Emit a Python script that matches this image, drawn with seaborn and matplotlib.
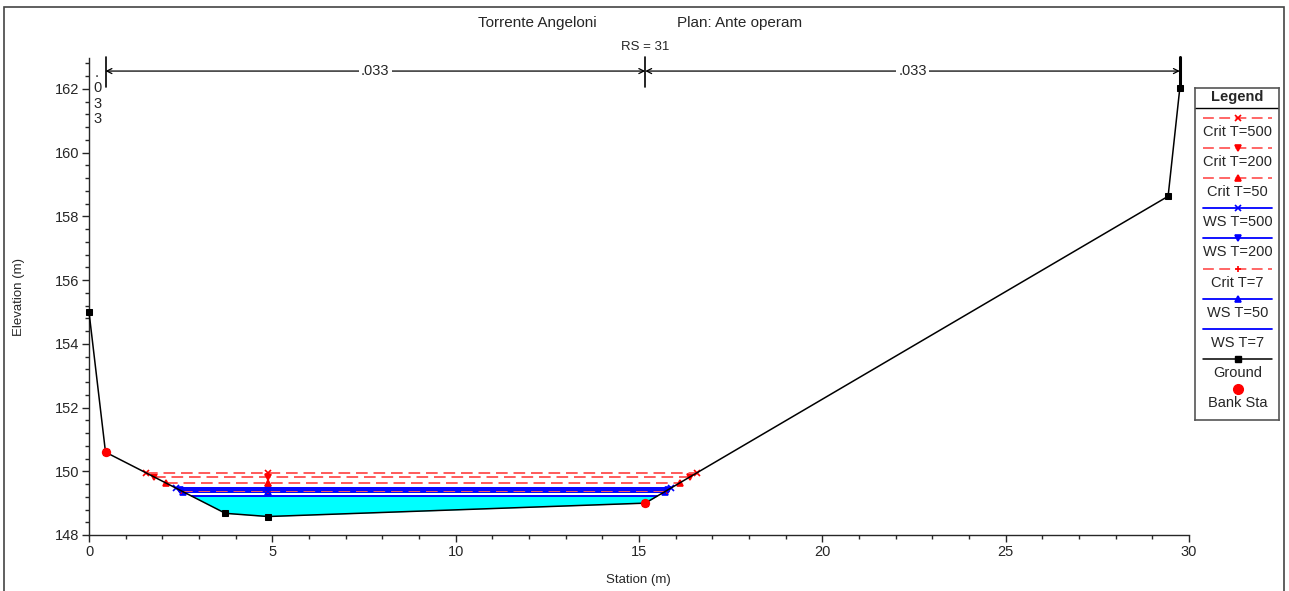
import numpy as np
import pandas as pd
import matplotlib
matplotlib.use("Agg")
import matplotlib.pyplot as plt
import matplotlib.patches as mpatches
from matplotlib.ticker import MultipleLocator
import seaborn as sns

# ground profile (station, elevation)
ground_sta = [0.0, 0.45, 3.72, 4.88, 15.17, 29.43, 29.75]
ground_elev = [155.0, 150.6, 148.68, 148.58, 149.0, 158.63, 162.03]

# bank stations
bank_sta = [0.45, 15.17]
bank_elev = [150.6, 149.0]

# water surface / critical profiles
profile_names = ["Crit T=500", "Crit T=200", "Crit T=50", "WS T=500",
                 "WS T=200", "Crit T=7", "WS T=50", "WS T=7"]
profile_elev = [149.95, 149.82, 149.63, 149.47, 149.42, 149.39, 149.36, 149.21]
profile_left = [1.56, 1.78, 2.11, 2.38, 2.47, 2.52, 2.57, 2.82]
profile_right = [16.58, 16.39, 16.11, 15.87, 15.80, 15.76, 15.72, 15.48]
profile_mid = 4.88

# wetted area under WS T=7
fill_sta = [2.82, 3.72, 4.88, 15.17, 15.48]
fill_bot = [149.21, 148.68, 148.58, 149.0, 149.21]
fill_top = 149.21

# Manning's n regions
n_bounds = [0.0, 0.45, 15.17, 29.75]
n_values = [".033", ".033", ".033"]

styles = {
    "Crit T=500": dict(color="#ff5a5a", ls=(0, (6, 3)), marker="x", mc="red"),
    "Crit T=200": dict(color="#ff5a5a", ls=(0, (6, 3)), marker="v", mc="red"),
    "Crit T=50": dict(color="#ff5a5a", ls=(0, (6, 3)), marker="^", mc="red"),
    "WS T=500": dict(color="blue", ls="-", marker="x", mc="blue"),
    "WS T=200": dict(color="blue", ls="-", marker="v", mc="blue"),
    "Crit T=7": dict(color="#ff5a5a", ls=(0, (6, 3)), marker="+", mc="red"),
    "WS T=50": dict(color="blue", ls="-", marker="^", mc="blue"),
    "WS T=7": dict(color="blue", ls="-", marker=None, mc="blue"),
}

sns.set_style("ticks")
plt.rcParams["font.family"] = ["Liberation Sans", "DejaVu Sans"]

W, H = 1289, 591
fig = plt.figure(figsize=(W / 100, H / 100), dpi=100)
ax = fig.add_axes([89 / W, 1 - 535 / H, 1100 / W, 477 / H])

# water area
ax.fill_between(fill_sta, fill_bot, fill_top, color="cyan", lw=0, zorder=1)

# profiles (draw bottom ones first)
for name, z, xl, xr in reversed(list(zip(profile_names, profile_elev, profile_left, profile_right))):
    st = styles[name]
    df = pd.DataFrame({"sta": [xl, profile_mid, xr], "elev": [z, z, z]})
    sns.lineplot(data=df, x="sta", y="elev", ax=ax, color=st["color"], linestyle=st["ls"],
                 lw=1.4, marker=st["marker"], ms=5, mec=st["mc"], mfc=st["mc"], mew=1.2,
                 estimator=None, sort=False, zorder=3)

# ground
gdf = pd.DataFrame({"sta": ground_sta, "elev": ground_elev})
sns.lineplot(data=gdf, x="sta", y="elev", ax=ax, color="black", lw=1.1, marker="s", ms=5,
             mec="black", mfc="black", estimator=None, sort=False, zorder=4, clip_on=False)
bdf = pd.DataFrame({"sta": bank_sta, "elev": bank_elev})
sns.scatterplot(data=bdf, x="sta", y="elev", ax=ax, color="red", s=45, edgecolor="red",
                linewidth=0, zorder=5)

ax.set_xlim(0, 30)
ax.set_ylim(148, 162.97)
ax.xaxis.set_major_locator(MultipleLocator(5))
ax.xaxis.set_minor_locator(MultipleLocator(1))
ax.yaxis.set_major_locator(MultipleLocator(2))
ax.yaxis.set_minor_locator(MultipleLocator(0.4))
ax.tick_params(which="major", length=5, width=1, labelsize=10.5, pad=2)
ax.tick_params(which="minor", length=3, width=1)
for s in ["top", "right"]:
    ax.spines[s].set_visible(False)
ax.spines["left"].set_linewidth(1)
ax.spines["bottom"].set_linewidth(1)
ax.set_xlabel("Station (m)", fontsize=9.5)
ax.set_ylabel("Elevation (m)", fontsize=9.5)
ax.xaxis.set_label_coords(549 / 1100, -39 / 477)
ax.yaxis.set_label_coords(-64 / 1100, 0.5)

# Manning's n annotations
arrow_y = 162.56
for b in n_bounds[1:]:
    ax.plot([b, b], [162.05, 163.0], color="black", lw=1.2 if b < 29 else 2.2,
            clip_on=False, zorder=6)
for (a, b), n in zip(zip(n_bounds[1:-1], n_bounds[2:]), n_values[1:]):
    ax.annotate("", xy=(a, arrow_y), xytext=(b, arrow_y),
                arrowprops=dict(arrowstyle="<->", color="black", lw=0.9,
                                shrinkA=0, shrinkB=0, mutation_scale=9))
    ax.text((a + b) / 2, arrow_y, n, ha="center", va="center", fontsize=10.5,
            bbox=dict(facecolor="white", edgecolor="none", pad=1.5), zorder=7)
ax.text(0.22, 162.72, ".\n0\n3\n3", ha="center", va="top", fontsize=10.5, linespacing=1.12)

# titles
fig.text(537 / W, 1 - 23 / H, "Torrente Angeloni", ha="center", va="center", fontsize=11)
fig.text(740 / W, 1 - 23 / H, "Plan: Ante operam", ha="center", va="center", fontsize=11)
fig.text(645 / W, 1 - 47 / H, "RS = 31", ha="center", va="center", fontsize=9.5)

# outer frame
fig.patches.append(mpatches.Rectangle((4 / W, -0.01), 1280 / W, 1 - 7 / H + 0.01,
                                      transform=fig.transFigure, fill=False,
                                      edgecolor="#444444", lw=1.2))

# legend box
lax = fig.add_axes([1195 / W, 1 - 420 / H, 84 / W, 332 / H])
lax.set_xlim(1195, 1279)
lax.set_ylim(420, 88)
lax.set_xticks([])
lax.set_yticks([])
for s in lax.spines.values():
    s.set_visible(True)
    s.set_color("#555555")
    s.set_linewidth(1.2)
lax.text(1237, 97.5, "Legend", ha="center", va="center", fontsize=10.5, fontweight="bold")
lax.plot([1195, 1279], [108.5, 108.5], color="black", lw=1)
leg_names = profile_names + ["Ground", "Bank Sta"]
for i, name in enumerate(leg_names):
    y = 117.7 + i * 30.2
    if name == "Ground":
        lax.plot([1203, 1272], [y, y], color="black", lw=1.1)
        lax.plot([1237.5], [y], marker="s", ms=5, color="black")
    elif name == "Bank Sta":
        lax.plot([1237.5], [y], marker="o", ms=7, color="red")
    else:
        st = styles[name]
        lax.plot([1203, 1272], [y, y], color=st["color"], ls=st["ls"], lw=1.3)
        if st["marker"]:
            lax.plot([1237.5], [y], marker=st["marker"], ms=5, color=st["mc"], mew=1.2)
    lax.text(1237.5, y + 14, name, ha="center", va="center", fontsize=10.5)

fig.savefig("out.png", dpi=100)
